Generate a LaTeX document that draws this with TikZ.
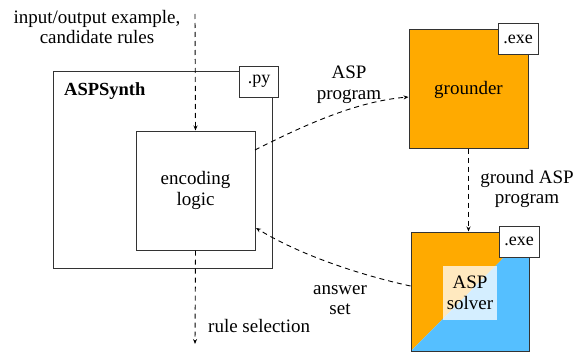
\documentclass[tikz,border=0pt]{standalone}
\usepackage{fontspec}
\setmainfont{Liberation Serif}
\newfontfamily\diagfont{Liberation Serif}
\usetikzlibrary{arrows.meta}
\definecolor{aorange}{HTML}{FFAA00}
\definecolor{ablue}{HTML}{55BFFF}
\definecolor{edgegray}{HTML}{333333}
\tikzset{
  box/.style={draw=edgegray, line width=1pt, inner sep=0pt},
  tag/.style={draw=edgegray, line width=1pt, fill=white, inner sep=0pt, font=\diagfont\fontsize{18}{20}\selectfont},
  lbl/.style={inner sep=0pt, align=center, font=\diagfont\fontsize{19}{20.5}\selectfont},
  flow/.style={draw=black, line width=0.9pt, dash pattern=on 5pt off 4pt, -{Stealth[length=5pt,width=4pt]}}
}
\begin{document}
\begin{tikzpicture}[x=1pt,y=-1pt]
\useasboundingbox (0,0) rectangle (583,353);
% ASPSynth outer box
\node[box, minimum width=219pt, minimum height=197pt] (synth) at (162.5,169.5) {};
\node[lbl, anchor=west, font=\diagfont\fontsize{18.5}{20}\selectfont\bfseries] (synthlbl) at (64,91) {ASPSynth};
\node[tag, minimum width=39pt, minimum height=31pt] (py) at (259,81.5) {.py};
% encoding logic
\node[box, minimum width=119pt, minimum height=119pt, lbl] (enc) at (195.5,190.5) {encoding\\logic};
% grounder
\node[box, fill=aorange, minimum width=119pt, minimum height=118pt] (gr) at (468.5,89) {};
\node[lbl] (grlbl) at (468.5,90) {grounder};
\node[tag, minimum width=40pt, minimum height=31pt] (exe1) at (518,39.5) {.exe};
% solver
\coordinate (sTL) at (411,232);
\coordinate (sTR) at (529,232);
\coordinate (sBL) at (411,351);
\coordinate (sBR) at (529,351);
\fill[aorange] (sTL) -- (sTR) -- (sBL) -- cycle;
\fill[ablue] (sTR) -- (sBR) -- (sBL) -- cycle;
\node[box, minimum width=118pt, minimum height=119pt] (sol) at (470,291.5) {};
\node[fill=white, fill opacity=0.75, text opacity=1, inner sep=0pt, minimum width=54pt, minimum height=54pt, lbl] (sollbl) at (470,293) {ASP\\solver};
\node[tag, minimum width=40pt, minimum height=31pt] (exe2) at (519,241.5) {.exe};
% texts
\node[lbl] (inlbl) at (97,27) {input/output example,\\candidate rules};
\node[lbl] (asplbl) at (349,85) {ASP\\program};
\node[lbl] (gndlbl) at (527,189) {ground ASP\\program};
\node[lbl] (anslbl) at (340,300) {answer\\set};
\node[lbl, anchor=west] (rslbl) at (208,326) {rule selection};
% connectors
\coordinate (top) at (195,14);
\coordinate (bot) at (195,344);
\draw[flow] (top) -- (enc.north);
\draw[flow] (enc.south) -- (bot);
\draw[flow] (255,150) .. controls (310,122) and (360,101) .. (gr.west |- 0,97);
\draw[flow] (gr.south) -- (gr.south |- sol.north);
\draw[flow] (sol.west |- 0,286) .. controls (360,275) and (300,255) .. (256,228);
\end{tikzpicture}
\end{document}
